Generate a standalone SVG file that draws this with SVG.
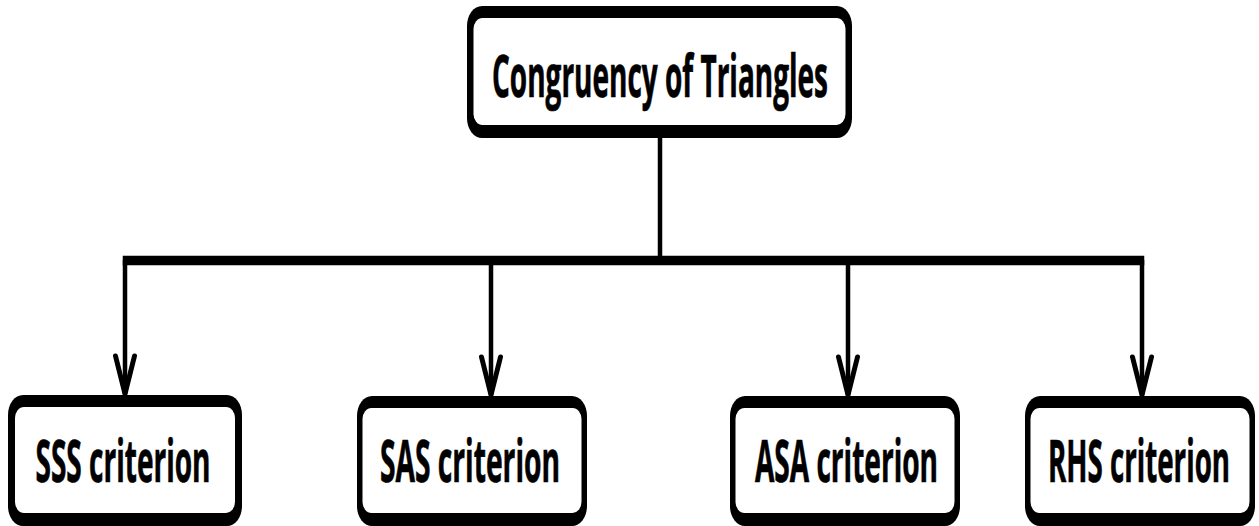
<svg xmlns="http://www.w3.org/2000/svg" width="1259" height="526" viewBox="0 0 1259 526">
  <style>
    .frame { fill: #000000; }
    .face { fill: #ffffff; }
    .label { font-family: "Open Sans", "Noto Sans", "Liberation Sans", sans-serif; font-weight: 700; font-size: 28.5px; fill: #000000; stroke: #000000; stroke-width: 0.35; text-anchor: middle; }
    .wire { fill: none; stroke: #000000; stroke-width: 4.5; }
    .bus { fill: none; stroke: #000000; stroke-width: 9.5; }
  </style>
  <defs>
    <marker id="chevron" markerUnits="userSpaceOnUse" orient="auto" refX="0" refY="0" markerWidth="60" markerHeight="40" viewBox="-50 -20 60 40" overflow="visible">
      <path d="M -39,-9.5 L -1,0 L -39,9.5" fill="none" stroke="#000000" stroke-width="5" stroke-linejoin="miter" stroke-linecap="round"/>
    </marker>
  </defs>

  <rect width="1259" height="526" fill="#ffffff"/>

  <!-- connectors: trunk, horizontal bus and four drops -->
  <g id="connectors">
    <line class="wire" x1="660" y1="136" x2="660" y2="260"/>
    <line class="bus" x1="122.75" y1="260.5" x2="1144.25" y2="260.5"/>
    <line class="wire" x1="125" y1="260" x2="125" y2="395" marker-end="url(#chevron)"/>
    <line class="wire" x1="491" y1="260" x2="491" y2="396" marker-end="url(#chevron)"/>
    <line class="wire" x1="848" y1="260" x2="848" y2="396" marker-end="url(#chevron)"/>
    <line class="wire" x1="1142" y1="260" x2="1142" y2="396" marker-end="url(#chevron)"/>
  </g>

  <!-- root node -->
  <g id="node-root">
    <rect class="frame" x="467" y="6" width="385" height="132" rx="15" ry="20"/>
    <rect class="face" x="473.5" y="18" width="372" height="107" rx="9" ry="11"/>
    <text class="label" transform="translate(660 97) scale(1 2.06)" textLength="336" lengthAdjust="spacingAndGlyphs">Congruency of Triangles</text>
  </g>

  <!-- criterion nodes (labels are tall, narrow type) -->
  <g id="node-sss">
    <rect class="frame" x="8" y="395" width="234" height="131" rx="15" ry="20"/>
    <rect class="face" x="15" y="407" width="220" height="106" rx="9" ry="11"/>
    <text class="label" transform="translate(123 482) scale(1 2.06)" textLength="175" lengthAdjust="spacingAndGlyphs">SSS criterion</text>
  </g>

  <g id="node-sas">
    <rect class="frame" x="357" y="396" width="230" height="130" rx="15" ry="20"/>
    <rect class="face" x="362.5" y="408" width="219" height="105" rx="9" ry="11"/>
    <text class="label" transform="translate(470 482) scale(1 2.06)" textLength="180" lengthAdjust="spacingAndGlyphs">SAS criterion</text>
  </g>

  <g id="node-asa">
    <rect class="frame" x="730" y="396" width="230" height="130" rx="15" ry="20"/>
    <rect class="face" x="735.5" y="408" width="219" height="105" rx="9" ry="11"/>
    <text class="label" transform="translate(846.5 482) scale(1 2.06)" textLength="183" lengthAdjust="spacingAndGlyphs">ASA criterion</text>
  </g>

  <g id="node-rhs">
    <rect class="frame" x="1025" y="396" width="230" height="130" rx="15" ry="20"/>
    <rect class="face" x="1030.5" y="408" width="219" height="105" rx="9" ry="11"/>
    <text class="label" transform="translate(1139 482) scale(1 2.06)" textLength="182" lengthAdjust="spacingAndGlyphs">RHS criterion</text>
  </g>
</svg>
